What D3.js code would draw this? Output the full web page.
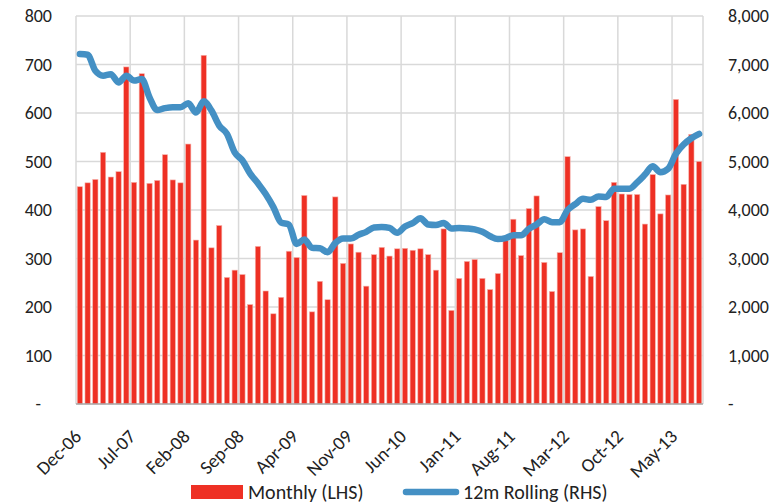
<!DOCTYPE html>
<html lang="en">
<head>
  <meta charset="UTF-8">
  <title>Monthly vs 12m Rolling</title>
  <script src="https://d3js.org/d3.v7.min.js"></script>
  <style>
    body { margin: 0; background: #fff; }
    svg { display: block; }
    text { font-family: Calibri, Carlito, Lato, "Liberation Sans", sans-serif; fill: #222; }
  </style>
</head>
<body>
<div id="chart"></div>
<script>
  // months Dec-06 .. Aug-13
  const months = d3.timeMonth.range(new Date(2006, 11, 1), new Date(2013, 8, 1));

  const monthly = [
    448, 456, 463, 519, 468, 479, 695, 457, 681, 455, 461, 514,
    462, 456, 536, 338, 719, 322, 368, 261, 276, 267, 205, 325,
    233, 186, 220, 315, 302, 430, 190, 253, 215, 427, 290, 330,
    313, 243, 308, 323, 305, 320, 321, 317, 320, 308, 276, 361,
    193, 259, 294, 298, 259, 236, 269, 337, 381, 306, 403, 429,
    292, 232, 312, 510, 359, 361, 263, 407, 378, 457, 433, 432,
    432, 371, 473, 392, 431, 628, 453, 556, 500
  ];

  const rolling = [
    7215, 7200, 6870, 6770, 6800, 6630, 6770, 6670, 6700, 6320, 6060, 6100,
    6120, 6120, 6200, 6010, 6240, 6050, 5740, 5570, 5190, 5020, 4750, 4550,
    4330, 4060, 3740, 3700, 3300, 3390, 3220, 3210, 3130, 3320, 3410, 3410,
    3490, 3550, 3640, 3650, 3630, 3530, 3660, 3730, 3830, 3700, 3690, 3730,
    3620, 3630, 3620, 3600, 3550, 3460, 3400, 3420, 3480, 3480, 3610, 3700,
    3810, 3750, 3750, 4000, 4120, 4230, 4210, 4280, 4270, 4440, 4440, 4440,
    4570, 4730, 4900, 4780, 4850, 5160, 5350, 5480, 5570
  ];

  const leftTicks = [0, 100, 200, 300, 400, 500, 600, 700, 800];
  const rightTicks = [0, 1000, 2000, 3000, 4000, 5000, 6000, 7000, 8000];

  const W = 779, H = 503;
  const plot = { left: 76, right: 703, top: 16, bottom: 404 };
  const fmtTick = d3.timeFormat("%b-%y");

  const svg = d3.select("#chart").append("svg")
    .attr("width", W).attr("height", H);

  const x = d3.scaleBand()
    .domain(d3.range(months.length))
    .range([plot.left, plot.right])
    .paddingInner(0.32)
    .paddingOuter(0.16);

  const step = (plot.right - plot.left) / months.length;
  const edge = i => plot.left + i * step;

  const yL = d3.scaleLinear().domain([0, 800]).range([plot.bottom, plot.top]);
  const yR = d3.scaleLinear().domain([0, 8000]).range([plot.bottom, plot.top]);

  // horizontal gridlines
  svg.append("g").selectAll("line")
    .data(leftTicks.filter(d => d > 0))
    .join("line")
    .attr("x1", plot.left).attr("x2", plot.right)
    .attr("y1", d => yL(d)).attr("y2", d => yL(d))
    .attr("stroke", "#d9d9d9").attr("stroke-width", 1.5);

  // vertical gridlines every 7 months
  const tickIdx = d3.range(0, months.length, 7);
  svg.append("g").selectAll("line")
    .data(tickIdx)
    .join("line")
    .attr("x1", d => edge(d)).attr("x2", d => edge(d))
    .attr("y1", plot.top).attr("y2", plot.bottom)
    .attr("stroke", "#d9d9d9").attr("stroke-width", 1.5);
  svg.append("line")
    .attr("x1", plot.right).attr("x2", plot.right)
    .attr("y1", plot.top).attr("y2", plot.bottom)
    .attr("stroke", "#d9d9d9").attr("stroke-width", 1.5);

  // bars
  svg.append("g").selectAll("rect")
    .data(monthly)
    .join("rect")
    .attr("x", (d, i) => x(i))
    .attr("width", x.bandwidth())
    .attr("y", d => yL(d))
    .attr("height", d => yL(0) - yL(d))
    .attr("fill", "#ee3024")
    .attr("stroke", "#f7b3ac")
    .attr("stroke-width", 0.6);

  // base axis line
  svg.append("line")
    .attr("x1", plot.left).attr("x2", plot.right)
    .attr("y1", plot.bottom).attr("y2", plot.bottom)
    .attr("stroke", "#a6a6a6").attr("stroke-width", 1.5);

  // rolling line
  const line = d3.line()
    .x((d, i) => x(i) + x.bandwidth() / 2)
    .y(d => yR(d))
    .curve(d3.curveMonotoneX);

  svg.append("path")
    .datum(rolling)
    .attr("d", line)
    .attr("fill", "none")
    .attr("stroke", "#4490c4")
    .attr("stroke-width", 6.5)
    .attr("stroke-linejoin", "round")
    .attr("stroke-linecap", "round");

  // left axis labels
  svg.append("g").selectAll("text")
    .data(leftTicks)
    .join("text")
    .attr("x", d => d === 0 ? 41 : 52)
    .attr("y", d => yL(d))
    .attr("dy", "0.35em")
    .attr("text-anchor", "end")
    .style("font-size", "18px")
    .text(d => d === 0 ? "-" : d3.format(",")(d));

  // right axis labels
  svg.append("g").selectAll("text")
    .data(rightTicks)
    .join("text")
    .attr("x", 728)
    .attr("y", d => yR(d))
    .attr("dy", "0.35em")
    .attr("text-anchor", "start")
    .style("font-size", "18px")
    .text(d => d === 0 ? "-" : d3.format(",")(d));

  // x labels
  svg.append("g").selectAll("text")
    .data(tickIdx)
    .join("text")
    .attr("transform", d => `translate(${x(d) + x.bandwidth() / 2 - 2},${plot.bottom + 29}) rotate(-45)`)
    .attr("text-anchor", "end")
    .attr("dy", "0.35em")
    .style("font-size", "19px")
    .text(d => fmtTick(months[d]));

  // legend
  const lg = svg.append("g");
  lg.append("rect")
    .attr("x", 191).attr("y", 485).attr("width", 52).attr("height", 14)
    .attr("fill", "#ee3024");
  lg.append("text")
    .attr("x", 248).attr("y", 492).attr("dy", "0.35em")
    .style("font-size", "20px")
    .text("Monthly (LHS)");
  lg.append("line")
    .attr("x1", 406).attr("x2", 456).attr("y1", 492).attr("y2", 492)
    .attr("stroke", "#4490c4").attr("stroke-width", 6.5)
    .attr("stroke-linecap", "round");
  lg.append("text")
    .attr("x", 463).attr("y", 492).attr("dy", "0.35em")
    .style("font-size", "20px")
    .text("12m Rolling (RHS)");
</script>
</body>
</html>
